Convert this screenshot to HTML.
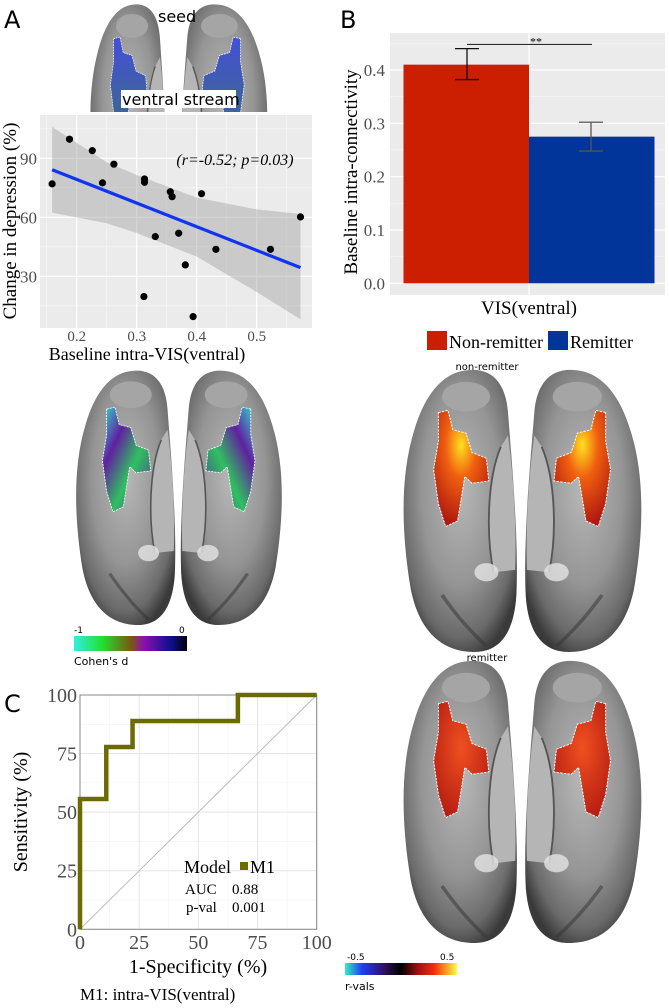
<!DOCTYPE html>
<html><head><meta charset="utf-8"><style>
html,body{margin:0;padding:0;background:#fff;}
svg{display:block;font-family:"Liberation Serif",serif;}
.sans{font-family:"DejaVu Sans","Liberation Sans",sans-serif;}
</style></head><body>
<svg id="fig" width="669" height="1008" viewBox="0 0 669 1008" xmlns="http://www.w3.org/2000/svg">
<defs>
<radialGradient id="brainG" cx="0.5" cy="0.42" r="0.62">
<stop offset="0" stop-color="#b8b8b8"/><stop offset="0.55" stop-color="#959595"/><stop offset="0.85" stop-color="#6a6a6a"/><stop offset="1" stop-color="#3a3a3a"/>
</radialGradient>
<linearGradient id="seedG" x1="0" y1="0" x2="0" y2="1"><stop offset="0" stop-color="#4450d8"/><stop offset="1" stop-color="#3b6a86"/></linearGradient>
<linearGradient id="cohG" x1="0" y1="0" x2="1" y2="0"><stop offset="0" stop-color="#30f0e0"/><stop offset="0.25" stop-color="#20e030"/><stop offset="0.5" stop-color="#7a5a10"/><stop offset="0.62" stop-color="#8a10b0"/><stop offset="0.85" stop-color="#101090"/><stop offset="1" stop-color="#000010"/></linearGradient>
<linearGradient id="rG" x1="0" y1="0" x2="1" y2="0"><stop offset="0" stop-color="#30f0c0"/><stop offset="0.15" stop-color="#2040f0"/><stop offset="0.35" stop-color="#301060"/><stop offset="0.5" stop-color="#000"/><stop offset="0.65" stop-color="#a01010"/><stop offset="0.8" stop-color="#f03010"/><stop offset="1" stop-color="#ffff40"/></linearGradient>
<radialGradient id="hotG" cx="0.5" cy="0.3" r="0.7"><stop offset="0" stop-color="#ffe020"/><stop offset="0.4" stop-color="#f06010"/><stop offset="1" stop-color="#b01810"/></radialGradient>
<radialGradient id="hotG2" cx="0.5" cy="0.4" r="0.7"><stop offset="0" stop-color="#f05020"/><stop offset="1" stop-color="#b01810"/></radialGradient>
<linearGradient id="cohPatch" x1="0" y1="0" x2="1" y2="1"><stop offset="0" stop-color="#30e0d0"/><stop offset="0.3" stop-color="#6020a0"/><stop offset="0.6" stop-color="#30c060"/><stop offset="1" stop-color="#5030a0"/></linearGradient>
<path id="brainL" d="M55,3 C75,0 88,12 90,40 C93,80 99,150 97,200 C95,235 82,250 62,250 C35,250 16,232 9,195 C1,145 0,95 12,55 C22,20 38,5 55,3 Z"/>
<clipPath id="topClip"><rect x="0" y="0" width="669" height="112"/></clipPath>
</defs>
<g id="brains"></g>

<text x="4" y="28" class="sans" font-size="24">A</text>
<text x="340" y="28" class="sans" font-size="24">B</text>
<text x="4" y="712" class="sans" font-size="24">C</text>

<text x="158" y="22" class="sans" font-size="16">seed</text>
<rect x="121" y="90" width="115" height="18" fill="#fff"/>
<text x="122" y="105" class="sans" font-size="16">ventral stream</text>

<g id="scatter"></g>
<g id="bars"></g>
<g id="roc"></g>

<rect x="74" y="636" width="113" height="15" fill="url(#cohG)"/>
<text x="74" y="633" class="sans" font-size="9">-1</text>
<text x="179" y="633" class="sans" font-size="9">0</text>
<text x="74" y="665" class="sans" font-size="11">Cohen's d</text>

<text x="487" y="370" class="sans" font-size="10" text-anchor="middle">non-remitter</text>
<text x="487" y="661" class="sans" font-size="10" text-anchor="middle">remitter</text>
<rect x="345" y="963" width="112" height="12" fill="url(#rG)"/>
<text x="347" y="960" class="sans" font-size="9">-0.5</text>
<text x="440" y="960" class="sans" font-size="9">0.5</text>
<text x="345" y="990" class="sans" font-size="11">r-vals</text>
</svg>
<script>
const NS="http://www.w3.org/2000/svg";
function mk(parent,tag,attrs,txt){const e=document.createElementNS(NS,tag);for(const k in attrs)e.setAttribute(k,attrs[k]);if(txt!==undefined)e.textContent=txt;parent.appendChild(e);return e;}

// ---------- Scatter data ----------
const scatterX=[0.159,0.188,0.226,0.243,0.262,0.313,0.313,0.312,0.331,0.356,0.359,0.370,0.381,0.394,0.408,0.432,0.523,0.573];
const scatterY=[77,99.7,93.9,77.5,87,79.5,77.8,19.7,50.2,73,70.5,51.9,35.8,9.5,72,43.7,43.7,60.2];
const fitX=[0.159,0.573];
const fitY=[84.2,34.4];
const bandX=[0.159,0.25,0.3,0.4,0.5,0.573];
const bandUpper=[106,88,81.5,70,64,61.7];
const bandLower=[62.4,57,52,40,22,8.1];
const scatterXTicks=[0.2,0.3,0.4,0.5];
const scatterYTicks=[30,60,90];

// ---------- Bar data ----------
const barGroups=["Non-remitter","Remitter"];
const barValues=[0.41,0.275];
const barErrLow=[0.382,0.248];
const barErrHigh=[0.44,0.302];
const barColors=["#cc1e00","#02359a"];
const barYTicks=[0.0,0.1,0.2,0.3,0.4];
const sigLevel=0.448;

// ---------- ROC data ----------
const rocFPR=[0,0,11.1,11.1,22.2,22.2,66.7,66.7,100];
const rocTPR=[0,55.6,55.6,77.8,77.8,88.9,88.9,100,100];
const rocTicks=[0,25,50,75,100];

// ---------- Scatter ----------
(function(){
 const g=document.getElementById('scatter');
 const L=40,R=312,T=115,B=328;
 const sx=v=>76.7+(v-0.2)*600, sy=v=>158.3+(90-v)*59/30;
 mk(g,'rect',{x:L,y:T,width:R-L,height:B-T,fill:'#ebebeb'});
 for(const t of [0.15,0.25,0.35,0.45,0.55]) mk(g,'line',{x1:sx(t),x2:sx(t),y1:T,y2:B,stroke:'#f7f7f7','stroke-width':0.6});
 for(const t of [15,45,75,105]) if(sy(t)>T&&sy(t)<B) mk(g,'line',{x1:L,x2:R,y1:sy(t),y2:sy(t),stroke:'#f7f7f7','stroke-width':0.6});
 scatterXTicks.forEach(t=>{mk(g,'line',{x1:sx(t),x2:sx(t),y1:T,y2:B,stroke:'#fff','stroke-width':1.2});
  const tl=mk(g,'text',{x:sx(t),y:B+13,'font-size':15,'text-anchor':'middle',fill:'#4d4d4d'},String(t));
  });
 scatterYTicks.forEach(t=>{mk(g,'line',{x1:L,x2:R,y1:sy(t),y2:sy(t),stroke:'#fff','stroke-width':1.2});
  const tl=mk(g,'text',{x:L-3,y:sy(t)+6,'font-size':17,'text-anchor':'end',fill:'#4d4d4d'},String(t));
  });
 let d='';bandX.forEach((x,i)=>d+=(i?'L':'M')+sx(x)+','+sy(bandUpper[i]));
 for(let i=bandX.length-1;i>=0;i--)d+='L'+sx(bandX[i])+','+sy(bandLower[i]);
 const band=mk(g,'path',{d:d+'Z',fill:'#999',opacity:0.4});
 
 scatterX.forEach((x,i)=>{const c=mk(g,'circle',{cx:sx(x),cy:sy(scatterY[i]),r:3.6,fill:'#000'});
  });
 const fl=mk(g,'line',{x1:sx(fitX[0]),y1:sy(fitY[0]),x2:sx(fitX[1]),y2:sy(fitY[1]),stroke:'#1034f0','stroke-width':3.2});
 
 const a=mk(g,'text',{x:235,y:165,'font-size':16,'font-style':'italic','text-anchor':'middle'},'(r=-0.52; p=0.03)');
 
 const xt=mk(g,'text',{x:147,y:360,'font-size':18,'text-anchor':'middle'},'Baseline intra-VIS(ventral)');
 
 const yt=mk(g,'text',{x:0,y:0,'font-size':19,'text-anchor':'middle',transform:'translate(16,221) rotate(-90)'},'Change in depression (%)');
 
})();

// ---------- Bars ----------
(function(){
 const g=document.getElementById('bars');
 const L=390,R=665,T=33,B=295;
 const by=v=>283.3-v*533.3;
 mk(g,'rect',{x:L,y:T,width:R-L,height:B-T,fill:'#ebebeb'});
 [0.05,0.15,0.25,0.35,0.45].forEach(t=>mk(g,'line',{x1:L,x2:R,y1:by(t),y2:by(t),stroke:'#f7f7f7','stroke-width':0.6}));
 barYTicks.forEach(t=>{mk(g,'line',{x1:L,x2:R,y1:by(t),y2:by(t),stroke:'#fff','stroke-width':1.2});
  const tl=mk(g,'text',{x:L-5,y:by(t)+6,'font-size':17,'text-anchor':'end',fill:'#4d4d4d'},t.toFixed(1));
  });
 mk(g,'line',{x1:529,x2:529,y1:T,y2:B,stroke:'#fff','stroke-width':1.2});
 const bw=125.5,x0=403.5;
 barValues.forEach((v,i)=>{const x=x0+i*bw;
  const r=mk(g,'rect',{x:x,y:by(v),width:bw,height:by(0)-by(v),fill:barColors[i]});
  
  const ex=i?591:467;
  const e=mk(g,'path',{d:`M${ex-12},${by(barErrHigh[i])}H${ex+12}M${ex},${by(barErrHigh[i])}V${by(barErrLow[i])}M${ex-12},${by(barErrLow[i])}H${ex+12}`,stroke:i?'#555':'#111','stroke-width':1.3,fill:'none'});
  });
 const s=mk(g,'line',{x1:467,x2:592,y1:by(sigLevel),y2:by(sigLevel),stroke:'#111','stroke-width':1});
 
 const st=mk(g,'text',{x:536,y:by(sigLevel)+1,'font-size':12,'text-anchor':'middle'},'**');
 
 const xt=mk(g,'text',{x:529,y:314,'font-size':19,'text-anchor':'middle'},'VIS(ventral)');
 
 const yt=mk(g,'text',{x:0,y:0,'font-size':19,'text-anchor':'middle',transform:'translate(357,172) rotate(-90)'},'Baseline intra-connectivity');
 
 const lx=[427,548],tx=[449,570];
 barGroups.forEach((n,i)=>{const r=mk(g,'rect',{x:lx[i],y:331,width:20,height:19,fill:barColors[i]});
  
  const t=mk(g,'text',{x:tx[i],y:348,'font-size':18},n);
  });
})();

// ---------- ROC ----------
(function(){
 const g=document.getElementById('roc');
 const rx=v=>80+v*2.367, ry=v=>929.3-v*2.343;
 mk(g,'rect',{x:80,y:695,width:236.7,height:234.3,fill:'#fff'});
 [12.5,37.5,62.5,87.5].forEach(t=>{mk(g,'line',{x1:rx(t),x2:rx(t),y1:695,y2:929.3,stroke:'#f2f2f2','stroke-width':0.6});mk(g,'line',{x1:80,x2:316.7,y1:ry(t),y2:ry(t),stroke:'#f2f2f2','stroke-width':0.6});});
 rocTicks.forEach(t=>{mk(g,'line',{x1:rx(t),x2:rx(t),y1:695,y2:929.3,stroke:'#e5e5e5','stroke-width':1});
  mk(g,'line',{x1:80,x2:316.7,y1:ry(t),y2:ry(t),stroke:'#e5e5e5','stroke-width':1});
  const a=mk(g,'text',{x:rx(t),y:949,'font-size':20,'text-anchor':'middle',fill:'#4d4d4d'},String(t));
  
  const b=mk(g,'text',{x:77,y:ry(t)+7,'font-size':20,'text-anchor':'end',fill:'#4d4d4d'},String(t));
  });
 mk(g,'line',{x1:rx(0),y1:ry(0),x2:rx(100),y2:ry(100),stroke:'#bbb','stroke-width':1});
 mk(g,'rect',{x:80,y:695,width:236.7,height:234.3,fill:'none',stroke:'#888','stroke-width':1});
 let d='';rocFPR.forEach((x,i)=>d+=(i?'L':'M')+rx(x)+','+ry(rocTPR[i]));
 const p=mk(g,'path',{d:d,fill:'none',stroke:'#6b6b00','stroke-width':4.5,'stroke-linejoin':'miter'});
 
 const lg=mk(g,'text',{x:184,y:873,'font-size':18},'Model');
 const sw=mk(g,'rect',{x:240,y:862,width:8,height:8,fill:'#6b6b00'});
 const m=mk(g,'text',{x:250,y:873,'font-size':18},'M1');
 const r1=mk(g,'text',{x:185,y:894,'font-size':15},'AUC');
 const r2=mk(g,'text',{x:232,y:894,'font-size':15},'0.88');
 const r3=mk(g,'text',{x:186,y:912,'font-size':15},'p-val');
 const r4=mk(g,'text',{x:232,y:912,'font-size':15},'0.001');
 const xt=mk(g,'text',{x:198,y:973,'font-size':20,'text-anchor':'middle'},'1-Specificity (%)');
 const yt=mk(g,'text',{x:0,y:0,'font-size':20,'text-anchor':'middle',transform:'translate(27,812) rotate(-90)'},'Sensitivity (%)');
 const cap=mk(g,'text',{x:80,y:1000,'font-size':17},'M1: intra-VIS(ventral)');
})();

// ---------- Brains (illustrations) ----------
(function(){
 const g=document.getElementById('brains');
 function brain(x,y,w,h,flip,patch,name,clip){
  const grp=mk(g,'g',{});
  
  if(clip)grp.setAttribute('clip-path','url(#topClip)');
  const sx=w/100,sy=h/250;
  const tr=flip?`translate(${x+w},${y}) scale(${-sx},${sy})`:`translate(${x},${y}) scale(${sx},${sy})`;
  const inner=mk(grp,'g',{transform:tr});
  mk(inner,'use',{href:'#brainL',fill:'url(#brainG)'});
  mk(inner,'path',{d:'M84,70 C72,100 72,150 78,180 L96,178 C97,140 95,100 90,60Z',fill:'#b5b5b5'});
  mk(inner,'path',{d:'M84,70 C72,100 72,150 78,180',stroke:'#555',fill:'none','stroke-width':1.5});
  mk(inner,'ellipse',{cx:55,cy:26,rx:20,ry:13,fill:'#a5a5a5'});
  mk(inner,'ellipse',{cx:72,cy:180,rx:10,ry:8,fill:'#e5e5e5',opacity:0.8});
  mk(inner,'path',{d:'M35,200 C45,215 55,228 72,245',stroke:'#333',fill:'none','stroke-width':3,opacity:0.5});
  if(patch) mk(inner,'path',{d:'M32,40 L40,38 L44,55 L55,58 L60,75 L72,80 L74,100 L60,102 L54,96 L48,135 L38,140 L32,120 L28,90 L32,65Z',fill:patch,stroke:'#fff','stroke-width':0.8,'stroke-dasharray':'2,1'});
 }
 brain(88,2,80,230,false,'url(#seedG)','seed-brain-left',true);
 brain(178,2,92,230,true,'url(#seedG)','seed-brain-right',true);
 brain(73,368,105,257,false,'url(#cohPatch)','cohens-d-brain-left');
 brain(178,368,107,257,true,'url(#cohPatch)','cohens-d-brain-right');
 brain(400,367,120,285,false,'url(#hotG)','non-remitter-brain-left');
 brain(522,367,123,285,true,'url(#hotG)','non-remitter-brain-right');
 brain(400,658,120,285,false,'url(#hotG2)','remitter-brain-left');
 brain(522,658,123,285,true,'url(#hotG2)','remitter-brain-right');
})();
</script>
</body></html>
